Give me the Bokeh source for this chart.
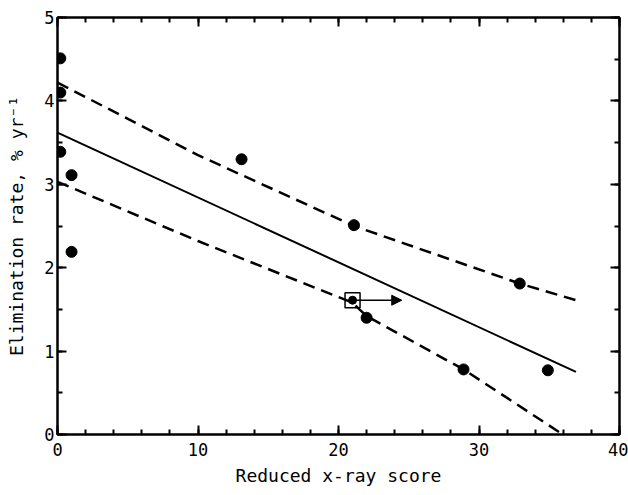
from bokeh.plotting import figure
from bokeh.models import LinearAxis, Range1d, Arrow, NormalHead, FixedTicker, ColumnDataSource
from bokeh.embed import file_html
from bokeh.resources import INLINE

# data points (reduced x-ray score, elimination rate %/yr)
pts_x = [0.2, 0.2, 0.2, 1.0, 1.0, 13.1, 21.1, 22.0, 28.9, 32.9, 34.9]
pts_y = [4.51, 4.10, 3.39, 3.11, 2.19, 3.30, 2.51, 1.40, 0.78, 1.81, 0.77]

# censored point (square + arrow)
cens_x = [21.0]
cens_y = [1.61]
cens_to = [24.5]

# regression line
fit_x = [0.0, 36.9]
fit_y = [3.62, 0.75]

# confidence band
up_x = [0.0, 10.0, 21.1, 32.9, 36.9]
up_y = [4.22, 3.35, 2.50, 1.81, 1.61]
lo_x = [0.0, 10.0, 21.0, 22.0, 28.9, 35.7]
lo_y = [3.03, 2.32, 1.58, 1.42, 0.78, 0.03]

x_ticks = [0, 10, 20, 30, 40]
y_ticks = [0, 1, 2, 3, 4, 5]

FONT = "DejaVu Sans Mono"

p = figure(width=628, height=495, output_backend="svg", toolbar_location=None,
           x_range=Range1d(0, 40), y_range=Range1d(0, 5),
           min_border_left=57, min_border_right=9, min_border_top=17, min_border_bottom=61,
           x_axis_label="Reduced x-ray score", y_axis_label="Elimination rate, % yr\u207b\u00b9")
p.grid.visible = False
p.outline_line_color = "black"
p.outline_line_width = 2
p.background_fill_color = "white"
p.border_fill_color = "white"

def style_axis(ax, ticks, minor, labels=True):
    ax.ticker = FixedTicker(ticks=ticks, minor_ticks=minor)
    ax.axis_line_width = 2
    ax.axis_line_color = "black"
    ax.major_tick_in = 9
    ax.major_tick_out = 0
    ax.minor_tick_in = 5
    ax.minor_tick_out = 0
    ax.major_tick_line_width = 2
    ax.minor_tick_line_width = 2
    ax.major_tick_line_color = "black"
    ax.minor_tick_line_color = "black"
    if labels:
        ax.major_label_text_font = FONT
        ax.major_label_text_font_size = "17px"
        ax.major_label_text_color = "black"
        ax.axis_label_text_font = FONT
        ax.axis_label_text_font_size = "18px"
        ax.axis_label_text_font_style = "normal"
        ax.axis_label_text_color = "black"
    else:
        ax.major_label_overrides = {t: "" for t in ticks}
        ax.major_label_standoff = 0

xminor = [i * 2 for i in range(21)]
yminor = [i * 0.5 for i in range(11)]

style_axis(p.xaxis[0], x_ticks, xminor)
style_axis(p.yaxis[0], y_ticks, yminor)
p.xaxis[0].major_label_standoff = 8
p.xaxis[0].axis_label_standoff = 6
p.yaxis[0].major_label_standoff = 3
p.yaxis[0].axis_label_standoff = 14

top = LinearAxis()
style_axis(top, x_ticks, xminor, labels=False)
p.add_layout(top, "above")
right = LinearAxis()
style_axis(right, y_ticks, yminor, labels=False)
p.add_layout(right, "right")

p.line(fit_x, fit_y, line_color="black", line_width=2)
p.line(up_x, up_y, line_color="black", line_width=2.5, line_dash="12 7")
p.line(lo_x, lo_y, line_color="black", line_width=2.5, line_dash="12 7")

p.scatter(pts_x, pts_y, marker="circle", size=11, fill_color="black", line_color="black")

p.scatter(cens_x, cens_y, marker="square", size=15, fill_color=None, line_color="black", line_width=1.5)
p.scatter(cens_x, cens_y, marker="circle", size=8, fill_color="black", line_color="black")
src = ColumnDataSource(dict(x0=cens_x, y0=cens_y, x1=cens_to, y1=cens_y))
p.add_layout(Arrow(source=src, x_start="x0", y_start="y0", x_end="x1", y_end="y1",
                   line_color="black", line_width=1.5,
                   end=NormalHead(size=10, fill_color="black", line_color="black")))

open("out.html", "w").write(file_html(p, INLINE))
